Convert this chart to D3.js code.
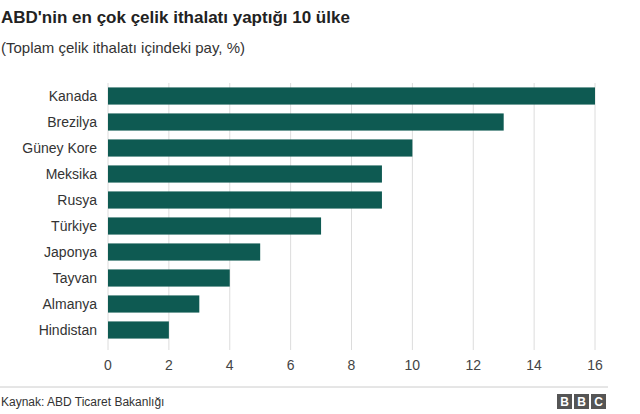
<!DOCTYPE html>
<html lang="tr">
<head>
<meta charset="UTF-8" />
<script src="https://d3js.org/d3.v7.min.js"></script>
<style>body{margin:0;background:#fff;font-family:Arial,"Liberation Sans",sans-serif;}</style>
</head>
<body>
<script>
var countries = ["Kanada","Brezilya","Güney Kore","Meksika","Rusya","Türkiye","Japonya","Tayvan","Almanya","Hindistan"];
var shares = [16, 13, 10, 9, 9, 7, 5, 4, 3, 2];
var ticks = [0, 2, 4, 6, 8, 10, 12, 14, 16];

var W = 640, H = 414;
var svg = d3.select("body").append("svg").attr("width", W).attr("height", H);

var x = d3.scaleLinear().domain([0, 16]).range([108, 595]);
var y = d3.scaleBand().domain(countries).range([83, 343]).paddingInner(0.34).paddingOuter(0.17);

svg.append("g").selectAll("line").data(ticks).join("line")
  .attr("x1", d => x(d)).attr("x2", d => x(d))
  .attr("y1", 83).attr("y2", 350)
  .attr("stroke", "#dcdcdc").attr("stroke-width", 1);

svg.append("g").selectAll("rect").data(shares).join("rect")
  .attr("x", x(0)).attr("y", (d, i) => y(countries[i]))
  .attr("width", d => x(d) - x(0)).attr("height", y.bandwidth())
  .attr("fill", "#0e5a52");

svg.append("g").selectAll("text").data(countries).join("text")
  .attr("x", 97).attr("y", d => y(d) + y.bandwidth() / 2)
  .attr("dy", "0.35em").attr("text-anchor", "end")
  .attr("font-size", 14).attr("fill", "#333").text(d => d);

svg.append("g").selectAll("text").data(ticks).join("text")
  .attr("x", d => x(d)).attr("y", 370).attr("text-anchor", "middle")
  .attr("font-size", 14).attr("fill", "#444").text(d => d);

svg.append("text").attr("x", 1).attr("y", 23).attr("font-size", 17)
  .attr("font-weight", "bold").attr("fill", "#222").text("ABD'nin en çok çelik ithalatı yaptığı 10 ülke");
svg.append("text").attr("x", 1).attr("y", 53).attr("font-size", 15)
  .attr("fill", "#333").text("(Toplam çelik ithalatı içindeki pay, %)");

svg.append("line").attr("x1", 0).attr("x2", 608).attr("y1", 387).attr("y2", 387)
  .attr("stroke", "#ccc");
svg.append("text").attr("x", 1).attr("y", 406).attr("font-size", 12)
  .attr("fill", "#333").text("Kaynak: ABD Ticaret Bakanlığı");

var logo = svg.append("g");
["B", "B", "C"].forEach(function (l, i) {
  logo.append("rect").attr("x", 557 + i * 17).attr("y", 394).attr("width", 15).attr("height", 15).attr("fill", "#555");
  logo.append("text").attr("x", 564.5 + i * 17).attr("y", 406).attr("text-anchor", "middle")
    .attr("font-size", 12).attr("font-weight", "bold").attr("fill", "#fff").text(l);
});
</script>
</body>
</html>
